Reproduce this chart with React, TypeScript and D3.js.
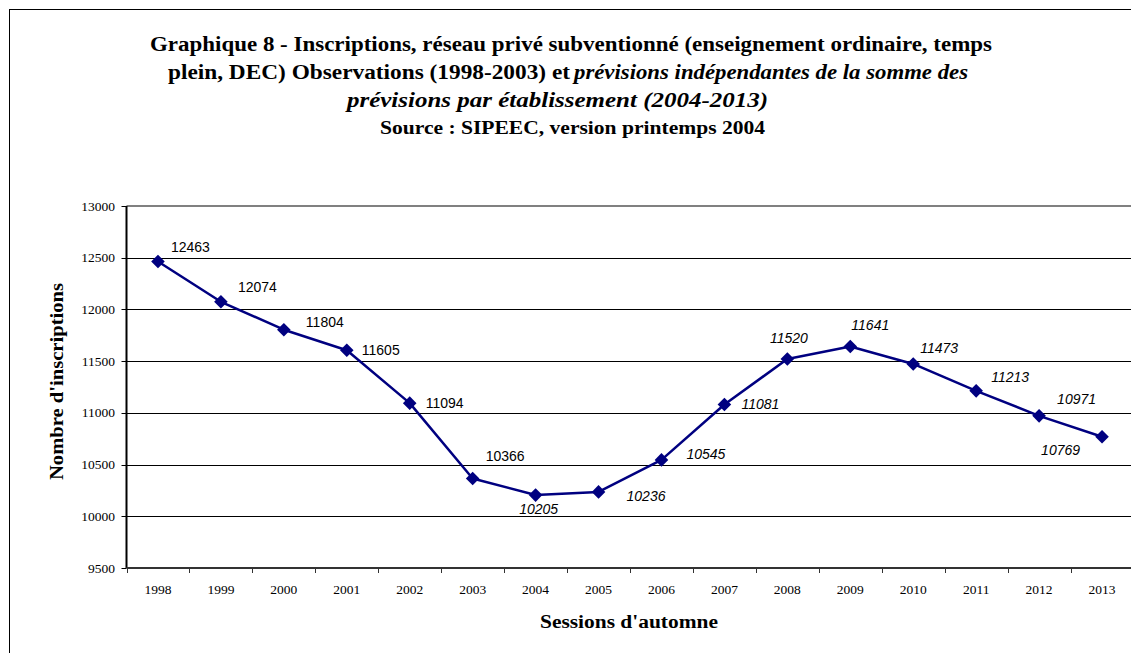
import React from 'react';
import * as d3 from 'd3';

const years = ['1998', '1999', '2000', '2001', '2002', '2003', '2004', '2005', '2006', '2007', '2008', '2009', '2010', '2011', '2012', '2013'];
const inscriptions = [12463, 12074, 11804, 11605, 11094, 10366, 10205, 10236, 10545, 11081, 11520, 11641, 11473, 11213, 10971, 10769];
const observedYears = ['1998', '1999', '2000', '2001', '2002', '2003'];
const yTicks = [9500, 10000, 10500, 11000, 11500, 12000, 12500, 13000];

const titleLine1 = 'Graphique 8 - Inscriptions, réseau privé subventionné (enseignement ordinaire, temps';
const titleLine2a = 'plein, DEC) Observations (1998-2003) et';
const titleLine2b = 'prévisions indépendantes de la somme des';
const titleLine3 = 'prévisions par établissement (2004-2013)';
const titleLine4 = 'Source : SIPEEC, version printemps 2004';
const xTitle = "Sessions d'automne";
const yTitle = "Nombre d'inscriptions";

// label placement (layout only): [dx, dy, anchor]
const labelPlacement: [number, number, string][] = [
  [13, -15, 'start'], [17, -15, 'start'], [22, -8, 'start'], [15, 0, 'start'],
  [16, 0, 'start'], [13, -22, 'start'], [3, 14, 'middle'], [28, 4, 'start'],
  [25, -6, 'start'], [17, 0, 'start'], [1.5, -21, 'middle'], [20, -22, 'middle'],
  [7, -16, 'start'], [15, -14, 'start'], [18, -17, 'start'], [-22, 13, 'end'],
];

export default function App() {
  const W = 1131, H = 653;
  const left = 126.5, right = 1133.5, top = 206, bottom = 568;
  const x = d3.scaleBand<string>().domain(years).range([left, right]);
  const y = d3.scaleLinear().domain([9500, 13000]).range([bottom, top]);
  const cx = (yr: string) => (x(yr) as number) + x.bandwidth() / 2;
  const line = d3.line<number>().x((_, i) => cx(years[i])).y(v => y(v));
  const serif = '"Liberation Serif", "Times New Roman", serif';
  const sans = '"Liberation Sans", Arial, sans-serif';
  const navy = '#000080';
  const r = 6.8;
  const adj = 'spacingAndGlyphs';

  return (
    <svg width={W} height={H} style={{ position: 'absolute', left: 0, top: 0, background: '#fff' }}>
      <rect x={0} y={0} width={W} height={H} fill="#fff" />
      <rect x={9.5} y={9.5} width={W + 20} height={H + 20} fill="none" stroke="#000" strokeWidth={1} />

      {/* Title */}
      <g fontFamily={serif} fontWeight="bold" fill="#000">
        <text x={150} y={51} fontSize={20} textLength={842} lengthAdjust={adj}>{titleLine1}</text>
        <text x={168} y={79} fontSize={20} textLength={402} lengthAdjust={adj}>{titleLine2a}</text>
        <text x={574} y={79} fontSize={20} fontStyle="italic" textLength={394} lengthAdjust={adj}>{titleLine2b}</text>
        <text x={347} y={107} fontSize={20} fontStyle="italic" textLength={421} lengthAdjust={adj}>{titleLine3}</text>
        <text x={380} y={134} fontSize={18} textLength={385} lengthAdjust={adj}>{titleLine4}</text>
      </g>

      {/* Grid lines */}
      {yTicks.filter(t => t > 9500 && t < 13000).map(t => (
        <line key={t} x1={left} x2={right} y1={Math.round(y(t)) + 0.5} y2={Math.round(y(t)) + 0.5} stroke="#000" strokeWidth={1} />
      ))}
      {/* plot top border */}
      <line x1={left} x2={right} y1={top} y2={top} stroke="#808080" strokeWidth={2} />

      {/* Y axis */}
      <line x1={left} x2={left} y1={top} y2={bottom} stroke="#000" strokeWidth={2} />
      {yTicks.map(t => (
        <g key={t}>
          <line x1={left - 5} x2={left} y1={Math.round(y(t)) + 0.5} y2={Math.round(y(t)) + 0.5} stroke="#000" strokeWidth={1} />
          <text x={115} y={y(t) + 4.5} textAnchor="end" fontFamily={serif} fontSize={13.5} fill="#000">{t}</text>
        </g>
      ))}

      {/* X axis */}
      <line x1={left} x2={right} y1={bottom} y2={bottom} stroke="#333" strokeWidth={2} />
      {years.map(yr => (
        <line key={'t' + yr} x1={Math.round(x(yr) as number) + 0.5} x2={Math.round(x(yr) as number) + 0.5} y1={bottom} y2={bottom + 5} stroke="#333" strokeWidth={1} />
      ))}
      {years.map(yr => (
        <text key={'l' + yr} x={cx(yr)} y={594} textAnchor="middle" fontFamily={serif} fontSize={13.5} fill="#000">{yr}</text>
      ))}

      {/* Axis titles */}
      <text x={540} y={628} fontFamily={serif} fontWeight="bold" fontSize={18} fill="#000" textLength={178} lengthAdjust={adj}>{xTitle}</text>
      <text transform="translate(63,480) rotate(-90)" fontFamily={serif} fontWeight="bold" fontSize={18} fill="#000" textLength={197} lengthAdjust={adj}>{yTitle}</text>

      {/* Series */}
      <path d={line(inscriptions) || ''} fill="none" stroke={navy} strokeWidth={2.5} strokeLinejoin="round" />
      {inscriptions.map((v, i) => {
        const px = cx(years[i]), py = y(v);
        return (
          <path key={'m' + i} d={`M${px},${py - r}L${px + r},${py}L${px},${py + r}L${px - r},${py}Z`} fill={navy} />
        );
      })}
      {inscriptions.map((v, i) => {
        const px = cx(years[i]), py = y(v);
        const [dx, dy, anchor] = labelPlacement[i];
        const italic = !observedYears.includes(years[i]);
        return (
          <text key={'d' + i} x={px + dx} y={py + dy + 5} textAnchor={anchor as any} fontFamily={sans} fontSize={14} fontStyle={italic ? 'italic' : 'normal'} fill="#000">{v}</text>
        );
      })}
    </svg>
  );
}
